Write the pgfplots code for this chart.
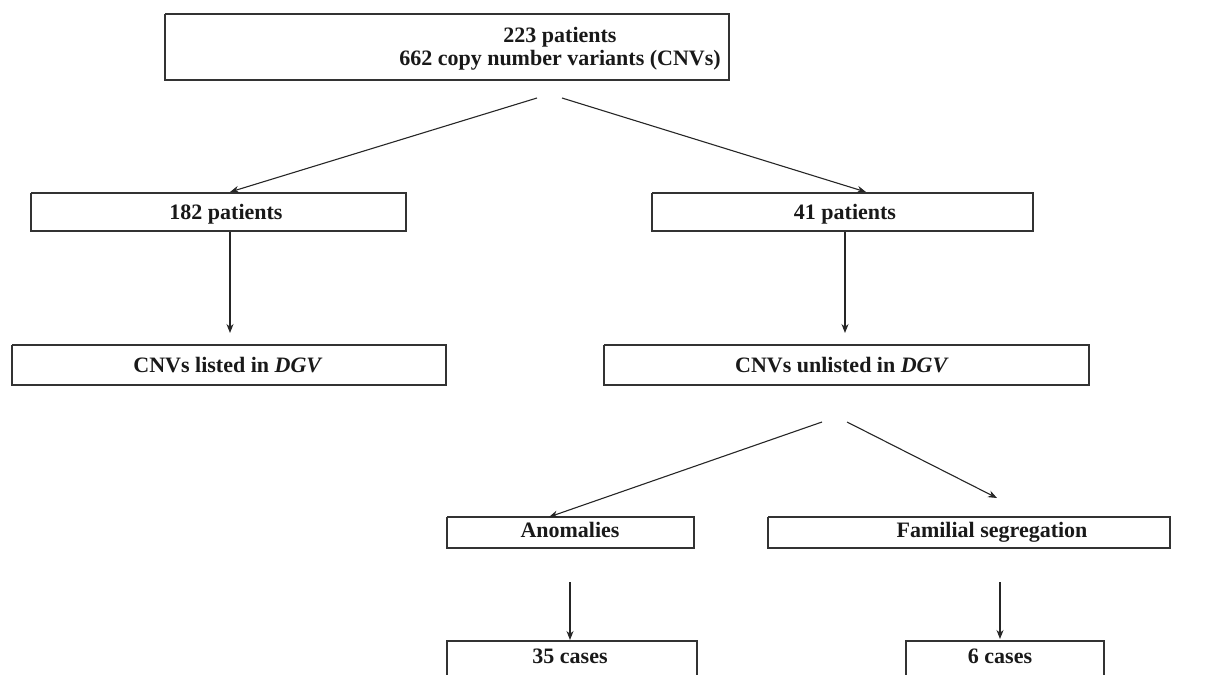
\documentclass[border=0pt]{standalone}
\usepackage{pgfplots}
\pgfplotsset{compat=1.18}
\usepackage{fontspec}
\setmainfont{Liberation Serif}
\usetikzlibrary{arrows.meta}
\begin{document}
\begin{tikzpicture}
\begin{axis}[
  width=1211pt, height=675pt, scale only axis,
  xmin=0, xmax=1211, ymin=0, ymax=675, y dir=reverse,
  axis lines=box, axis line style={draw=none}, ticks=none, clip=true,
  box/.style={line width=1.7pt, draw=black!80, mark=none, solid},
  arr/.style={line width=1.1pt, draw=black!85, mark=none, solid, -{Stealth[length=9pt,width=7pt]}},
]
% boxes
\addplot[box] coordinates {(165,14) (729,14) (729,80) (165,80) (165,14)};
\addplot[box] coordinates {(31,193) (406,193) (406,231) (31,231) (31,193)};
\addplot[box] coordinates {(652,193) (1033,193) (1033,231) (652,231) (652,193)};
\addplot[box] coordinates {(12,345) (446,345) (446,385) (12,385) (12,345)};
\addplot[box] coordinates {(604,345) (1089,345) (1089,385) (604,385) (604,345)};
\addplot[box] coordinates {(447,517) (694,517) (694,548) (447,548) (447,517)};
\addplot[box] coordinates {(768,517) (1170,517) (1170,548) (768,548) (768,517)};
\addplot[box] coordinates {(447,676) (447,641) (697,641) (697,676)};
\addplot[box] coordinates {(906,676) (906,641) (1104,641) (1104,676)};
% arrows
\addplot[arr] coordinates {(537,98) (230,192)};
\addplot[arr] coordinates {(562,98) (866,192)};
\addplot[arr] coordinates {(230,232) (230,333)};
\addplot[arr] coordinates {(845,232) (845,333)};
\addplot[arr] coordinates {(822,422) (549,517)};
\addplot[arr] coordinates {(847,422) (997,498)};
\addplot[arr] coordinates {(570,582) (570,640)};
\addplot[arr] coordinates {(1000,582) (1000,639)};
% labels
\tikzset{lab/.style={font=\fontsize{22}{23}\selectfont\bfseries, text=black!90, anchor=base, inner sep=0pt}}
\node[lab] at (axis cs:560,42) {223 patients};
\node[lab] at (axis cs:560,65) {662 copy number variants (CNVs)};
\node[lab] at (axis cs:226,219) {182 patients};
\node[lab] at (axis cs:845,219) {41 patients};
\node[lab] at (axis cs:228,372) {CNVs listed in \textit{DGV}};
\node[lab] at (axis cs:842,372) {CNVs unlisted in \textit{DGV}};
\node[lab] at (axis cs:570,537) {Anomalies};
\node[lab] at (axis cs:992,537) {Familial segregation};
\node[lab] at (axis cs:570,663) {35 cases};
\node[lab] at (axis cs:1000,663) {6 cases};
\end{axis}
\end{tikzpicture}
\end{document}
